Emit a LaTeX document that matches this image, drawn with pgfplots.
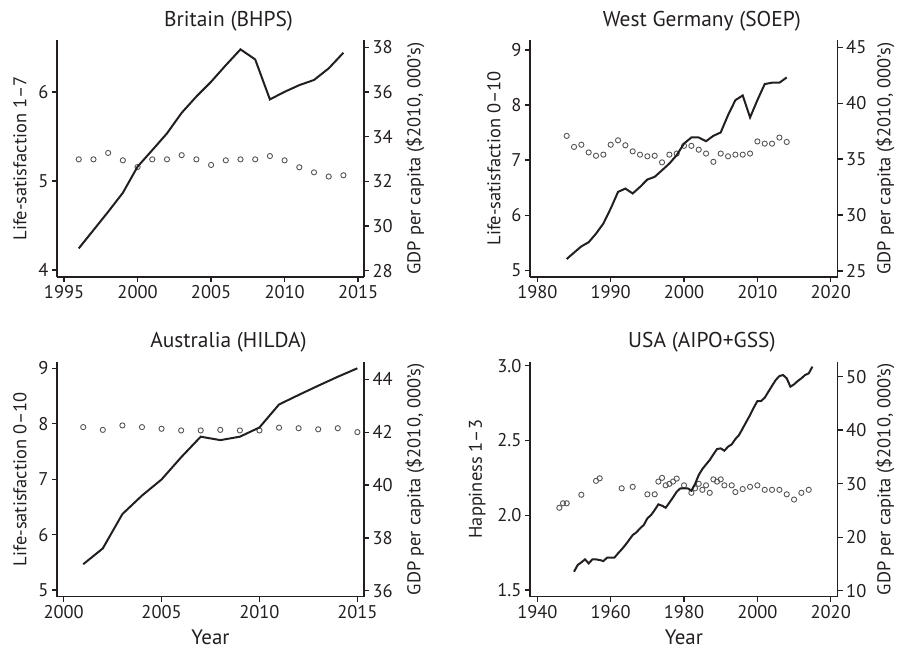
\documentclass[border=0pt]{standalone}
\usepackage{fontspec}
\setmainfont{PT Sans}
\usepackage{pgfplots}
\pgfplotsset{compat=1.18}
\definecolor{ink}{HTML}{231F20}
\definecolor{dot}{HTML}{555555}
\pgfplotsset{
  base/.style={scale only axis, tick align=outside, major tick length=5bp,
    axis line style={-, line width=1.4bp, color=ink},
    tick style={line width=1.4bp, color=ink},
    /pgf/number format/assume math mode=true,
    /pgf/number format/set thousands separator={},
    ticklabel style={font=\fontsize{18.5}{18.5}\selectfont, color=ink},
    label style={font=\fontsize{18.5}{19}\selectfont, color=ink},
    clip=false},
  leftax/.style={base, axis x line*=bottom, axis y line*=left,
    title style={font=\fontsize{21.5}{21.5}\selectfont, color=ink, at={(axis description cs:0.5,1)}, anchor=base, yshift=8bp, xshift=18bp},
    ylabel style={at={(axis description cs:#1,0.5)}, anchor=center},
    xlabel style={at={(axis description cs:0.5,0)}, yshift=-41bp, anchor=center, font=\fontsize{21}{21}\selectfont}},
  rightax/.style={base, axis x line=none, axis y line*=right,
    ylabel style={at={(axis description cs:#1,0.5)}, anchor=center}},
  rightax/.default=1.166,
  ls/.style={only marks, mark=o, mark size=2.6bp, mark options={dot, line width=0.9bp}},
  gdp/.style={ink, line width=2bp, no markers},
}
\begin{document}
\begin{tikzpicture}
\path[use as bounding box] (0,0) rectangle (897bp,-649bp);
% ---------------- Britain
\begin{axis}[leftax=-0.1205, at={(57bp,-277bp)}, anchor=south west, width=307bp, height=237bp,
  xmin=1994.52, xmax=2015.4, ymin=3.921, ymax=6.584,
  xtick={1995,2000,...,2015}, ytick={4,5,6},
  title={Britain (BHPS)}, ylabel={Life-satisfaction 1--7}]
\addplot[ls] coordinates {(1996,5.243)(1997,5.243)(1998,5.315)(1999,5.232)(2000,5.157)(2001,5.243)(2002,5.243)(2003,5.29)(2004,5.243)(2005,5.18)(2006,5.232)(2007,5.243)(2008,5.243)(2009,5.28)(2010,5.232)(2011,5.154)(2012,5.097)(2013,5.05)(2014,5.064)};
\end{axis}
\begin{axis}[rightax=1.166, at={(57bp,-277bp)}, anchor=south west, width=307bp, height=237bp,
  xmin=1994.52, xmax=2015.4, ymin=27.72, ymax=38.33,
  ytick={28,30,...,38}, ylabel={GDP per capita (\$2010, 000's)}]
\addplot[gdp] coordinates {(1996,29.0)(1997,29.82)(1998,30.64)(1999,31.49)(2000,32.66)(2001,33.4)(2002,34.15)(2003,35.07)(2004,35.8)(2005,36.46)(2006,37.2)(2007,37.91)(2008,37.46)(2009,35.67)(2010,36.01)(2011,36.31)(2012,36.54)(2013,37.06)(2014,37.76)};
\end{axis}
% ---------------- West Germany
\begin{axis}[leftax=-0.117, at={(530bp,-277bp)}, anchor=south west, width=307.7bp, height=237bp,
  xmin=1979.0, xmax=2020.95, ymin=4.88, ymax=9.18,
  xtick={1980,1990,...,2020}, ytick={5,6,7,8,9},
  title={West Germany (SOEP)}, ylabel={Life-satisfaction 0--10}]
\addplot[ls] coordinates {(1984,7.44)(1985,7.24)(1986,7.28)(1987,7.14)(1988,7.08)(1989,7.10)(1990,7.28)(1991,7.36)(1992,7.27)(1993,7.16)(1994,7.10)(1995,7.07)(1996,7.08)(1997,6.96)(1998,7.10)(1999,7.12)(2000,7.26)(2001,7.26)(2002,7.19)(2003,7.12)(2004,6.97)(2005,7.12)(2006,7.07)(2007,7.10)(2008,7.10)(2009,7.12)(2010,7.34)(2011,7.30)(2012,7.30)(2013,7.41)(2014,7.33)};
\end{axis}
\begin{axis}[rightax=1.154, at={(530bp,-277bp)}, anchor=south west, width=307.7bp, height=237bp,
  xmin=1979.0, xmax=2020.95, ymin=24.46, ymax=45.66,
  ytick={25,30,...,45}, ylabel={GDP per capita (\$2010, 000's)}]
\addplot[gdp] coordinates {(1984,26.07)(1985,26.64)(1986,27.2)(1987,27.57)(1988,28.34)(1989,29.24)(1990,30.58)(1991,32.07)(1992,32.37)(1993,31.93)(1994,32.52)(1995,33.18)(1996,33.42)(1997,34.01)(1998,34.61)(1999,35.36)(2000,36.4)(2001,36.94)(2002,36.94)(2003,36.61)(2004,37.09)(2005,37.39)(2006,38.94)(2007,40.28)(2008,40.7)(2009,38.73)(2010,40.28)(2011,41.72)(2012,41.84)(2013,41.84)(2014,42.31)};
\end{axis}
% ---------------- Australia
\begin{axis}[leftax=-0.1205, at={(57bp,-596.7bp)}, anchor=south west, width=307bp, height=235bp,
  xmin=1999.66, xmax=2015.34, ymin=4.88, ymax=9.12,
  xtick={2000,2005,...,2015}, ytick={5,6,7,8,9},
  title={Australia (HILDA)}, ylabel={Life-satisfaction 0--10}, xlabel={Year}]
\addplot[ls] coordinates {(2001,7.94)(2002,7.89)(2003,7.97)(2004,7.94)(2005,7.91)(2006,7.88)(2007,7.88)(2008,7.89)(2009,7.88)(2010,7.88)(2011,7.93)(2012,7.92)(2013,7.90)(2014,7.92)(2015,7.85)};
\end{axis}
\begin{axis}[rightax=1.166, at={(57bp,-596.7bp)}, anchor=south west, width=307bp, height=235bp,
  xmin=1999.66, xmax=2015.34, ymin=35.77, ymax=44.67,
  ytick={36,38,...,44}, ylabel={GDP per capita (\$2010, 000's)}]
\addplot[gdp] coordinates {(2001,37.0)(2002,37.6)(2003,38.9)(2004,39.6)(2005,40.21)(2006,41.05)(2007,41.83)(2008,41.70)(2009,41.83)(2010,42.18)(2011,43.05)(2012,43.41)(2013,43.76)(2014,44.1)(2015,44.42)};
\end{axis}
% ---------------- USA
\begin{axis}[leftax=-0.172, at={(530bp,-596.7bp)}, anchor=south west, width=307.7bp, height=235bp,
  xmin=1938, xmax=2021.9, ymin=1.455, ymax=3.027,
  xtick={1940,1960,...,2020}, ytick={1.5,2.0,2.5,3.0},
  yticklabel style={/pgf/number format/.cd, fixed, fixed zerofill, precision=1},
  title={USA (AIPO+GSS)}, ylabel={Happiness 1--3}, xlabel={Year}]
\addplot[ls] coordinates {(1946,2.05)(1947,2.08)(1948,2.08)(1952,2.137)(1956,2.23)(1957,2.247)(1963,2.18)(1966,2.19)(1970,2.14)(1972,2.14)(1973,2.225)(1974,2.25)(1975,2.2)(1976,2.21)(1977,2.225)(1978,2.245)(1980,2.2)(1982,2.15)(1983,2.18)(1984,2.21)(1985,2.17)(1986,2.2)(1987,2.15)(1988,2.24)(1989,2.225)(1990,2.24)(1991,2.2)(1993,2.2)(1994,2.155)(1996,2.175)(1998,2.19)(2000,2.2)(2002,2.17)(2004,2.17)(2006,2.17)(2008,2.14)(2010,2.105)(2012,2.15)(2014,2.17)};
\end{axis}
\begin{axis}[rightax=1.154, at={(530bp,-596.7bp)}, anchor=south west, width=307.7bp, height=235bp,
  xmin=1938, xmax=2021.9, ymin=8.88, ymax=52.8,
  ytick={10,20,...,50}, ylabel={GDP per capita (\$2010, 000's)}]
\addplot[gdp] coordinates {(1950,13.55)(1951,14.8)(1952,15.3)(1953,15.86)(1954,15.1)(1955,15.86)(1956,15.86)(1957,15.73)(1958,15.55)(1959,16.17)(1960,16.17)(1961,16.17)(1962,16.98)(1963,17.73)(1964,18.54)(1965,19.47)(1966,20.4)(1967,20.9)(1968,21.65)(1969,22.27)(1970,23.52)(1971,24.14)(1972,25.08)(1973,26.14)(1974,25.89)(1975,25.51)(1976,26.45)(1977,27.45)(1978,28.5)(1979,29.13)(1980,29.13)(1981,29.13)(1982,28.69)(1983,29.94)(1984,31.62)(1985,32.74)(1986,33.6)(1987,34.42)(1988,35.48)(1989,36.48)(1990,36.6)(1991,36.17)(1992,36.92)(1993,37.35)(1994,38.35)(1995,39.1)(1996,40.34)(1997,41.59)(1998,42.83)(1999,44.2)(2000,45.45)(2001,45.45)(2002,46.07)(2003,47.2)(2004,48.3)(2005,49.38)(2006,50.12)(2007,50.31)(2008,49.69)(2009,48.13)(2010,48.57)(2011,49.19)(2012,49.69)(2013,50.31)(2014,50.62)(2015,51.87)};
\end{axis}
\end{tikzpicture}
\end{document}
